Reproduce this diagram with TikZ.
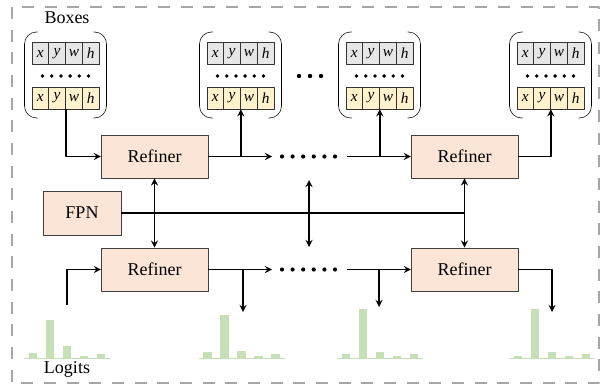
\documentclass[tikz,border=0pt]{standalone}
\usepackage{fontspec}
\setmainfont{Liberation Serif}
\definecolor{refinerfill}{HTML}{FBE5D6}
\definecolor{oldfill}{HTML}{E7E6E6}
\definecolor{newfill}{HTML}{FFF2CC}
\definecolor{barfill}{HTML}{C5E0B4}
\definecolor{framegray}{HTML}{A6A6A6}
\tikzset{
	refiner/.style={draw=black!75, fill=refinerfill, minimum width=80pt, minimum height=32.5pt, inner sep=0pt},
	cell/.style={draw=black!80, minimum width=12.56pt, minimum height=16.5pt, inner sep=0pt, font=\fontsize{11.5}{12}\selectfont\itshape},
	link/.style={line width=1.35pt}
}
\begin{document}
\begin{tikzpicture}[x=0.75pt,y=-0.75pt,>=stealth,line join=round,font=\fontsize{13.5}{16}\selectfont]
			\useasboundingbox (0,0) rectangle (605,385);
			\draw [framegray, line width=2pt, dash pattern=on 9pt off 8pt] (12,7) rectangle (599,383);
			\node (boxes) at (67,18) {Boxes};
			\node (logits) at (67,369) {Logits};
			\foreach \k/\cx in {1/65.5,2/240.5,3/379.5,4/550.5}{
				\foreach \letter [count=\j] in {x,y,w,h}{
					\node [cell, fill=oldfill] (old-\k-\j) at ({\cx+(\j-2.5)*16.75},53.5) {\letter};
					\node [cell, fill=newfill] (new-\k-\j) at ({\cx+(\j-2.5)*16.75},98) {\letter};
				}
				\foreach \j in {1,...,6} \fill ({\cx+(\j-3.5)*9.2},76) circle (1.9);
				\draw [rounded corners=9pt] (\cx-28,32)--(\cx-41,32)--(\cx-41,118)--(\cx-28,118) (\cx+28,32)--(\cx+41,32)--(\cx+41,118)--(\cx+28,118);
			}
			\foreach \x in {299,310,321} \fill (\x,76) circle (2.2);
			\node [refiner] (ref-t1) at (154.5,156.5) {Refiner};
			\node [refiner] (ref-t2) at (464.5,156.5) {Refiner};
			\node [refiner] (ref-b1) at (154.5,269.5) {Refiner};
			\node [refiner] (ref-b2) at (464.5,269.5) {Refiner};
			\node [refiner, minimum width=58.5pt, minimum height=33pt] (fpn) at (82,213) {FPN};
			\foreach \y in {156.5,269.5} \foreach \j in {0,...,5} \fill ({282+\j*10.6},\y) circle (2.1);
			\coordinate (tr1) at (272,156.5);
			\coordinate (tr2) at (347,156.5);
			\coordinate (br1) at (272,269.5);
			\coordinate (br2) at (347,269.5);
			\coordinate (lg-1) at (67,305);
			\coordinate (lg-2) at (243,312);
			\coordinate (lg-3) at (379,307);
			\coordinate (lg-4) at (552,312);
			\coordinate (mid-t) at (309,180);
			\coordinate (mid-b) at (309,247);
			\draw [link,->] (new-1-2.south east) |- (ref-t1);
			\draw [link,->] (ref-t1) -- (tr1);
			\draw [link,->] (ref-t1.east -| new-2-2.south east) -- (new-2-2.south east);
			\draw [link,->] (tr2) -- (ref-t2);
			\draw [link,->] (tr2 -| new-3-2.south east) -- (new-3-2.south east);
			\draw [link,->] (ref-t2) -| (new-4-2.south east);
			\draw [link,->] (lg-1) |- (ref-b1);
			\draw [link,->] (ref-b1) -- (br1);
			\draw [link,->] (ref-b1.east -| lg-2) -- (lg-2);
			\draw [link,->] (br2) -- (ref-b2);
			\draw [link,->] (br2 -| lg-3) -- (lg-3);
			\draw [link,->] (ref-b2) -| (lg-4);
			\draw [line width=2pt] (fpn) -- (fpn.east -| ref-t2);
			\draw [link,<->] (ref-t1) -- (ref-b1);
			\draw [link,<->] (mid-t) -- (mid-b);
			\draw [link,<->] (ref-t2) -- (ref-b2);
			\foreach \cx/\hs in {67/{6,39,13,3,5},241.5/{7,44,8,3,5},380/{5,50,7,3,5},552/{3,50,7,3,5}}{
				\draw [barfill, line width=0.9pt] (\cx-43,358.5) -- (\cx+43,358.5);
				\foreach \h [count=\j] in \hs \fill [barfill] ({\cx+(\j-3)*17-4.25},358.5) rectangle ({\cx+(\j-3)*17+4.25},{358.5-\h});
			}
		\end{tikzpicture}
\end{document}
